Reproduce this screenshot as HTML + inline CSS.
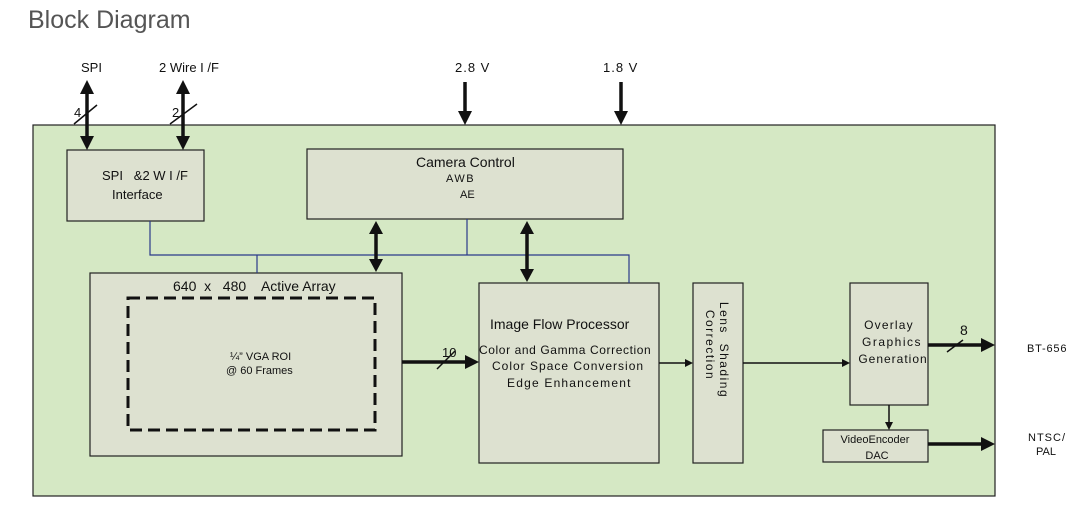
<!DOCTYPE html>
<html><head><style>
body{margin:0;background:#fff;width:1084px;height:509px;overflow:hidden}
text{font-family:"Liberation Sans",sans-serif;fill:#111}
</style></head><body>
<svg width="1084" height="509" xmlns="http://www.w3.org/2000/svg">
<text x="28" y="28" font-size="25" style="fill:#555">Block Diagram</text>
<rect x="33" y="125" width="962" height="371" fill="#d5e8c4" stroke="#222" stroke-width="1.2"/>
<g fill="#dde1d0" stroke="#222" stroke-width="1.2">
<rect x="67" y="150" width="137" height="71"/>
<rect x="307" y="149" width="316" height="70"/>
<rect x="90" y="273" width="312" height="183"/>
<rect x="479" y="283" width="180" height="180"/>
<rect x="693" y="283" width="50" height="180"/>
<rect x="850" y="283" width="78" height="122"/>
<rect x="823" y="430" width="105" height="32"/>
</g>
<rect x="128" y="298" width="247" height="132" fill="none" stroke="#111" stroke-width="3" stroke-dasharray="12,6"/>
<g stroke="#2a3a8a" stroke-width="1.2" fill="none">
<path d="M150 221V255H629V283M257 255V273M467 219V255"/>
</g>
<g stroke="#111" stroke-width="3.5" fill="none">
<path d="M87 92V138M183 92V138M376 232V260M527 232V270M465 82V112M621 82V112M402 362H466M928 345H982M928 444H982"/>
</g>
<g fill="#111">
<path d="M87 80l-7 14h14zM87 150l-7 -14h14z"/>
<path d="M183 80l-7 14h14zM183 150l-7 -14h14z"/>
<path d="M376 221l-7 13h14zM376 272l-7 -13h14z"/>
<path d="M527 221l-7 13h14zM527 282l-7 -13h14z"/>
<path d="M465 125l-7 -14h14zM621 125l-7 -14h14z"/>
<path d="M479 362l-14 -7v14zM995 345l-14 -7v14zM995 444l-14 -7v14z"/>
<path d="M693 363l-8 -4v8zM850 363l-8 -4v8zM889 430l-4 -8h8z"/>
</g>
<g stroke="#111" stroke-width="1.5" fill="none">
<path d="M659 363H686M743 363H843M889 405V423"/>
<path d="M74 124L97 105M170 124L197 104M437 369L455 351M947 352L963 340"/>
</g>
<g font-size="13">
<text x="81" y="72">SPI</text>
<text x="159" y="72">2 Wire I /F</text>
<text x="455" y="72" letter-spacing="1">2.8 V</text>
<text x="603" y="72" letter-spacing="1">1.8 V</text>
<text x="74" y="117">4</text>
<text x="172" y="117">2</text>
<text x="102" y="180" xml:space="preserve">SPI   &amp;2 W I /F</text>
<text x="112" y="199">Interface</text>
<text x="416" y="167" font-size="14">Camera Control</text>
<text x="446" y="182" font-size="11" letter-spacing="1.5">AWB</text>
<text x="460" y="198" font-size="11">AE</text>
<text x="173" y="291" font-size="14" xml:space="preserve">640  x   480    Active Array</text>
<text x="230" y="360" font-size="11">¼” VGA ROI</text>
<text x="226" y="374" font-size="11">@ 60 Frames</text>
<text x="442" y="357">10</text>
<text x="490" y="329" font-size="14">Image Flow Processor</text>
<text x="479" y="354" font-size="12" letter-spacing="0.6">Color and Gamma Correction</text>
<text x="492" y="370" font-size="12" letter-spacing="1">Color Space Conversion</text>
<text x="507" y="387" font-size="12" letter-spacing="1.2">Edge Enhancement</text>
<text transform="translate(720,350) rotate(90)" font-size="12" text-anchor="middle" letter-spacing="1.5" xml:space="preserve">Lens  Shading</text>
<text transform="translate(706,345) rotate(90)" font-size="12" text-anchor="middle" letter-spacing="1.5">Correction</text>
<text x="889" y="329" font-size="12" text-anchor="middle" letter-spacing="1.2">Overlay</text>
<text x="892" y="346" font-size="12" text-anchor="middle" letter-spacing="1.5">Graphics</text>
<text x="893" y="363" font-size="12" text-anchor="middle" letter-spacing="1">Generation</text>
<text x="960" y="335" font-size="14">8</text>
<text x="875" y="443" font-size="11" text-anchor="middle">VideoEncoder</text>
<text x="877" y="459" font-size="11" text-anchor="middle">DAC</text>
<text x="1027" y="352" font-size="11" letter-spacing="0.8">BT-656</text>
<text x="1047" y="441" font-size="11" text-anchor="middle" letter-spacing="1">NTSC/</text>
<text x="1046" y="455" font-size="11" text-anchor="middle">PAL</text>
</g>
</svg>
</body></html>
